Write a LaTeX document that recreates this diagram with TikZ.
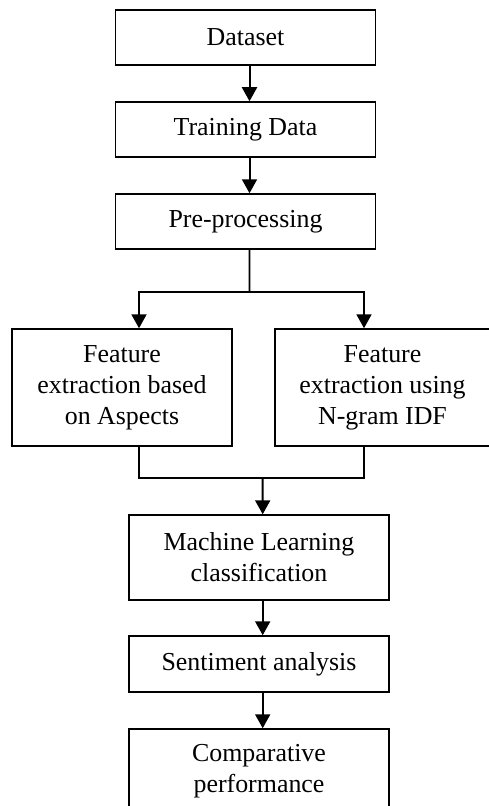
\documentclass[tikz,border=0pt]{standalone}
\usepackage{fontspec}
\setmainfont{Liberation Serif}
\usetikzlibrary{arrows.meta,positioning}

\begin{document}
\begin{tikzpicture}[
  x=1bp, y=-1bp,
  stage/.style={draw=black, line width=1.5bp, align=center, inner sep=0pt, minimum width=260bp, minimum height=55bp, font=\fontsize{26}{31}\selectfont},
  featbox/.style={stage, minimum width=220bp, minimum height=117bp},
  arr/.style={-{Triangle[length=14bp,width=15bp]}, black, line width=2bp},
  link/.style={black, line width=1.6bp}
]
\useasboundingbox (0,0) rectangle (489,806);

\node[stage] (data) at (245.5,37.5) {Dataset};
\node[stage] (train) at (245.5,129.5) {Training Data};
\node[stage] (prep) at (245.5,221.5) {Pre-processing};

\node[featbox] (aspect) at (122,387.5) {Feature\\extraction based\\on Aspects};
\node[featbox, minimum width=215bp] (ngram) at (382.5,387.5) {Feature\\extraction using\\N-gram IDF};

\node[stage, minimum height=85bp] (ml) at (259,557.5) {Machine Learning\\classification};
\node[stage, minimum height=56bp] (senti) at (259,664) {Sentiment analysis};
\node[stage, minimum height=84bp] (comp) at (259,771) {Comparative\\performance};

\coordinate (split) at (249.5,292);
\coordinate (merge) at (262.7,478);

\draw[arr] ([xshift=4bp]data.south) -- ([xshift=4bp]train.north);
\draw[arr] ([xshift=4bp]train.south) -- ([xshift=4bp]prep.north);
\draw[link] ([xshift=4bp]prep.south) -- (split);
\draw[arr] (split) -| ([xshift=17bp]aspect.north);
\draw[arr] (split) -| ([xshift=-18.5bp]ngram.north);
\draw[link] ([xshift=17bp]aspect.south) |- (merge) -| ([xshift=-18.5bp]ngram.south);
\draw[arr] (merge) -- ([xshift=3.7bp]ml.north);
\draw[arr] ([xshift=3.7bp]ml.south) -- ([xshift=3.7bp]senti.north);
\draw[arr] ([xshift=3.7bp]senti.south) -- ([xshift=3.7bp]comp.north);
\end{tikzpicture}
\end{document}
